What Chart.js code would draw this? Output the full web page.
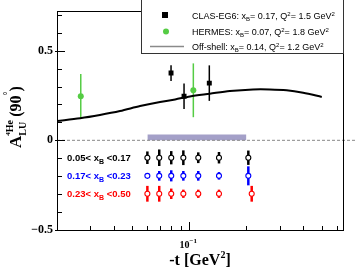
<!DOCTYPE html>
<html><head><meta charset="utf-8">
<script src="https://cdn.jsdelivr.net/npm/chart.js@4"></script>
<style>html,body{margin:0;padding:0;background:#fff}canvas{display:block}</style>
</head><body>
<canvas id="c" width="355" height="272"></canvas>
<script>
// ---- data ----
const curveT = [0.02,0.0265,0.0337,0.043,0.0549,0.07,0.0841,0.1007,0.1282,0.1636,0.2166,0.2657,0.3262,0.3987,0.5];
const curveA = [0.108,0.123,0.141,0.163,0.191,0.214,0.228,0.245,0.26,0.275,0.284,0.284,0.279,0.265,0.242];
const clasT = [0.08,0.0937,0.1274];
const clasA = [0.375,0.246,0.319];
const clasErr = [0.044,0.071,0.099];
const hermesT = [0.0267,0.1049];
const hermesA = [0.246,0.279];
const hermesErr = [0.124,0.15];
const binT1 = [0.06,0.0693,0.0802,0.0929,0.1114,0.1433,0.2047];
const binT2 = [0.06,0.0693,0.0802,0.0929,0.1114,0.1433,0.2047];
const binT3 = [0.06,0.0693,0.0802,0.0929,0.1114,0.1433,0.2133];
const binA1 = [-0.097,-0.097,-0.097,-0.097,-0.097,-0.097,-0.097];
const binA2 = [-0.198,-0.198,-0.198,-0.198,-0.198,-0.198,-0.198];
const binA3 = [-0.298,-0.298,-0.298,-0.298,-0.298,-0.298,-0.298];
const binErr1 = [0.035,0.046,0.037,0.041,0.03,0.032,0.04];
const binErr2 = [0.006,0.027,0.031,0.027,0.027,0.021,0.053];
const binErr3 = [0.044,0.044,0.029,0.023,0.023,0.023,0.044];
const sysT = [0.06,0.2];
const sysA = [0.033,0.033];
const zeroT = [0.02,1.0];
const zeroA = [0,0];
const yMajor = [-0.5,0,0.5];
const yMinor = [-0.4,-0.3,-0.2,-0.1,0.1,0.2,0.3,0.4,0.6,0.7];
const xMajor = [0.1];
const xMinor = [0.02,0.03,0.04,0.05,0.06,0.07,0.08,0.09,0.2,0.3,0.4,0.5,0.6];
const binLabels = [["0.05< x","B"," <0.17"],["0.17< x","B"," <0.23"],["0.23< x","B"," <0.50"]];
const binColors = ['#000000','#0000ff','#ff0000'];

const pts = (xs, ys) => xs.map((x,i)=>({x:x,y:ys[i]}));
const SERIF = '"Liberation Serif", "DejaVu Serif", serif';
const SANS = '"Liberation Sans", Arial, sans-serif';

function rich(ctx, x, y, parts, color){
  for (const p of parts){
    ctx.font = p.f; ctx.fillStyle = p.c || color || '#000';
    ctx.fillText(p.t, x, y + (p.dy||0));
    x += ctx.measureText(p.t).width + (p.sp||0);
  }
  return x;
}

const errPlugin = {
  id:'errbars',
  beforeDatasetsDraw(chart){
    const ctx = chart.ctx, xs = chart.scales.x, ys = chart.scales.y;
    chart.data.datasets.forEach(ds=>{
      if(!ds.errors) return;
      ctx.save();
      ctx.strokeStyle = ds.errColor; ctx.lineWidth = ds.errWidth;
      ds.data.forEach((p,i)=>{
        const px = xs.getPixelForValue(p.x);
        ctx.beginPath();
        ctx.moveTo(px, ys.getPixelForValue(p.y - ds.errors[i]));
        ctx.lineTo(px, ys.getPixelForValue(p.y + ds.errors[i]));
        ctx.stroke();
      });
      ctx.restore();
    });
  }
};

const decoPlugin = {
  id:'deco',
  afterDraw(chart){
    const ctx = chart.ctx, a = chart.chartArea, xs = chart.scales.x, ys = chart.scales.y;
    ctx.save();
    ctx.strokeStyle = '#000'; ctx.lineWidth = 1;
    // frame
    ctx.strokeRect(Math.round(a.left)+0.5, Math.round(a.top)+0.5, Math.round(a.right-a.left)-1, Math.round(a.bottom-a.top));
    // y ticks
    ctx.beginPath();
    yMajor.forEach(v=>{const py=Math.round(ys.getPixelForValue(v))+0.5; ctx.moveTo(a.left-2,py); ctx.lineTo(a.left+8,py);});
    yMinor.forEach(v=>{const py=Math.round(ys.getPixelForValue(v))+0.5; ctx.moveTo(a.left,py); ctx.lineTo(a.left+5,py);});
    // x ticks
    xMajor.forEach(v=>{const px=Math.round(xs.getPixelForValue(v))+0.5; ctx.moveTo(px,a.bottom); ctx.lineTo(px,a.bottom-8);});
    xMinor.forEach(v=>{const px=Math.round(xs.getPixelForValue(v))+0.5; ctx.moveTo(px,a.bottom); ctx.lineTo(px,a.bottom-4);});
    ctx.stroke();
    ctx.textBaseline = 'alphabetic'; ctx.textAlign = 'left';
    // x tick label 10^-1
    const p1 = xs.getPixelForValue(0.1);
    rich(ctx, p1-10, a.bottom+18, [{t:'10',f:'bold 10px '+SERIF},{t:'\u22121',f:'bold 7px '+SERIF,dy:-5}]);
    // x title
    const xt = [{t:'-t [GeV',f:'bold 16px '+SERIF},{t:'2',f:'bold 10px '+SERIF,dy:-7},{t:']',f:'bold 16px '+SERIF}];
    let w=0; xt.forEach(p=>{ctx.font=p.f; w+=ctx.measureText(p.t).width;});
    rich(ctx, 200 - w/2, 265, xt);
    // y title rotated
    ctx.save();
    ctx.translate(21, 148); ctx.rotate(-Math.PI/2);
    ctx.font='bold 17px '+SERIF; ctx.fillStyle='#000';
    ctx.fillText('A',0,0);
    let x = ctx.measureText('A').width;
    rich(ctx, x, -8, [{t:'4',f:'bold 7px '+SERIF,dy:-3},{t:'He',f:'bold 10px '+SERIF}]);
    const xe = rich(ctx, x, 5, [{t:'LU',f:'bold 10px '+SERIF}]);
    x = Math.max(xe, x+17) + 2;
    x = rich(ctx, x, 0, [{t:'(90',f:'bold 16px '+SERIF}]);
    x = rich(ctx, x, -10, [{t:'\u00b0',f:'bold 10px '+SERIF}]);
    rich(ctx, x, 0, [{t:')',f:'bold 16px '+SERIF}]);
    ctx.restore();
    // bin labels
    const rowsA = [binA1[0], binA2[0], binA3[0]];
    binLabels.forEach((lab,i)=>{
      const py = ys.getPixelForValue(rowsA[i]) + 3.5;
      rich(ctx, 67, py, [{t:lab[0],f:'bold 9.5px '+SANS},{t:lab[1],f:'bold 7px '+SANS,dy:2.5},{t:lab[2],f:'bold 9.5px '+SANS}], binColors[i]);
    });
    // legend
    ctx.fillStyle='#fff'; ctx.fillRect(141,-1,a.right-141,54.5);
    ctx.strokeStyle='#333'; ctx.lineWidth=1;
    ctx.strokeRect(141.5,-1,Math.round(a.right)-142,54.5);
    ctx.fillStyle='#000'; ctx.fillRect(162,12,6,6);
    ctx.fillStyle='#55cc44'; ctx.beginPath(); ctx.arc(166,31.5,3,0,Math.PI*2); ctx.fill();
    ctx.strokeStyle='#8a8a8a'; ctx.lineWidth=1.5; ctx.beginPath(); ctx.moveTo(150,46.5); ctx.lineTo(184,46.5); ctx.stroke();
    const LF='9px '+SANS, LS='6px '+SANS;
    const rowsL = [
      [{t:'CLAS-EG6: x',f:LF},{t:'B',f:LS,dy:2},{t:'= 0.17, Q',f:LF},{t:'2',f:LS,dy:-3},{t:'= 1.5 GeV',f:LF},{t:'2',f:LS,dy:-3}],
      [{t:'HERMES: x',f:LF},{t:'B',f:LS,dy:2},{t:'= 0.07, Q',f:LF},{t:'2',f:LS,dy:-3},{t:'= 1.8 GeV',f:LF},{t:'2',f:LS,dy:-3}],
      [{t:'Off-shell: x',f:LF},{t:'B',f:LS,dy:2},{t:'= 0.14, Q',f:LF},{t:'2',f:LS,dy:-3},{t:'= 1.2 GeV',f:LF},{t:'2',f:LS,dy:-3}]
    ];
    [18.5,35,50].forEach((yy,i)=>rich(ctx,192,yy,rowsL[i],'#000'));
    ctx.restore();
  }
};

const openPt = (col)=>({pointStyle:'circle',pointRadius:2.5,pointBackgroundColor:'#fff',pointBorderColor:col,pointBorderWidth:1.1,showLine:false});

new Chart(document.getElementById('c'), {
  type:'scatter',
  data:{datasets:[
    {label:'CLAS-EG6', data:pts(clasT,clasA), errors:clasErr, errColor:'#000', errWidth:1.5,
      pointStyle:'rect', pointRadius:3.5, pointBackgroundColor:'#000', pointBorderColor:'#000', pointBorderWidth:0, showLine:false},
    {label:'HERMES', data:pts(hermesT,hermesA), errors:hermesErr, errColor:'#55cc44', errWidth:1.5,
      pointStyle:'circle', pointRadius:3, pointBackgroundColor:'#55cc44', pointBorderWidth:0, showLine:false},
    Object.assign({label:'bin1', data:pts(binT1,binA1), errors:binErr1, errColor:'#000', errWidth:2.5}, openPt('#000')),
    Object.assign({label:'bin2', data:pts(binT2,binA2), errors:binErr2, errColor:'#0000ff', errWidth:2.5}, openPt('#0000ff')),
    Object.assign({label:'bin3', data:pts(binT3,binA3), errors:binErr3, errColor:'#ff0000', errWidth:2.5}, openPt('#ff0000')),
    {label:'Off-shell', type:'line', data:pts(curveT,curveA), borderColor:'#000', borderWidth:2, pointRadius:0, tension:0.3, fill:false},
    {label:'zero', type:'line', data:pts(zeroT,zeroA), borderColor:'#888', borderWidth:1, borderDash:[3,2], pointRadius:0, fill:false, clip:false},
    {label:'sys', type:'line', data:pts(sysT,sysA), borderWidth:0, borderColor:'rgba(0,0,0,0)', backgroundColor:'#a4a0c8', pointRadius:0, fill:'origin'}
  ]},
  options:{
    responsive:false, animation:false, events:[],
    layout:{padding:{left:0,right:11,top:8,bottom:42}},
    plugins:{legend:{display:false},tooltip:{enabled:false}},
    scales:{
      x:{type:'logarithmic', min:0.02, max:0.655, display:false},
      y:{type:'linear', min:-0.5, max:0.72,
        afterFit(s){s.width=57;},
        afterBuildTicks(s){s.ticks = yMajor.map(v=>({value:v}));},
        grid:{display:false, drawTicks:false}, border:{display:false},
        ticks:{padding:4, color:'#000', font:{family:SERIF, size:12, weight:'bold'},
          callback:v=> v===0 ? '0' : (v<0?'\u2212':'')+Math.abs(v)}
      }
    }
  },
  plugins:[errPlugin, decoPlugin]
});
</script></body></html>
